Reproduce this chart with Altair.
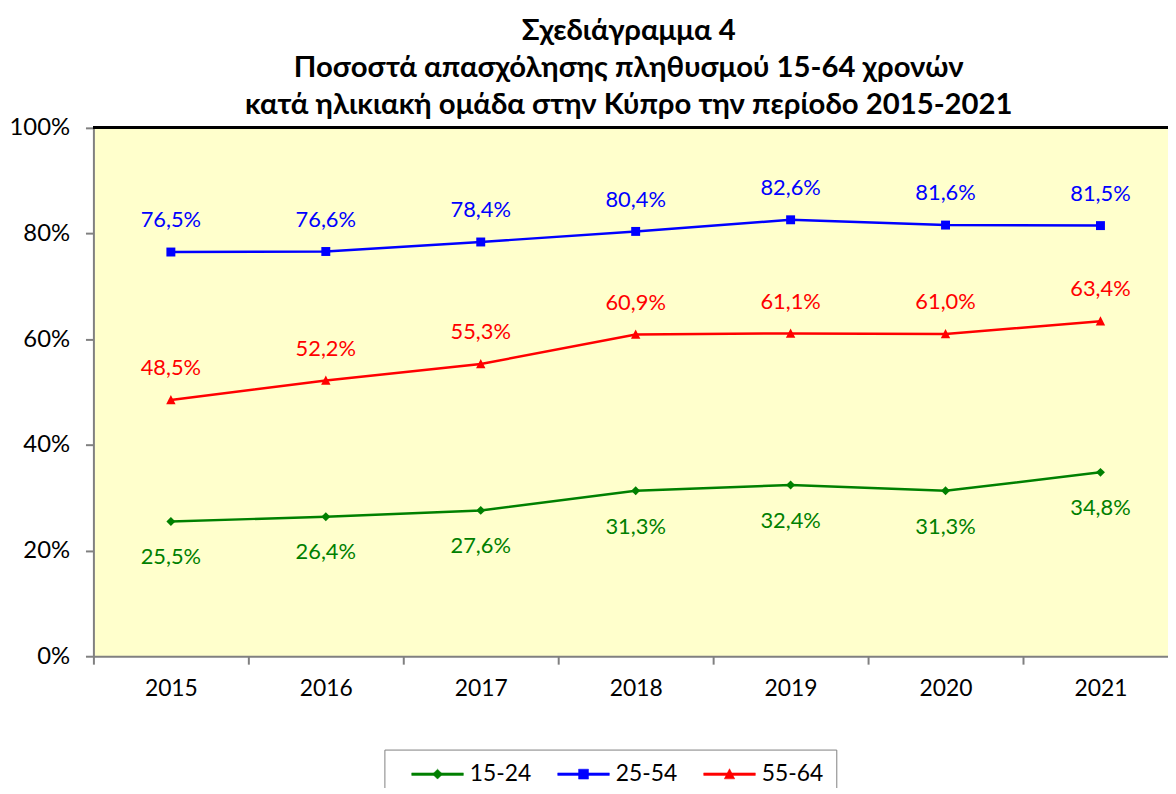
import altair as alt
import pandas as pd

years = ["2015", "2016", "2017", "2018", "2019", "2020", "2021"]
series = ["15-24", "25-54", "55-64"]
v_15_24 = [25.5, 26.4, 27.6, 31.3, 32.4, 31.3, 34.8]
v_25_54 = [76.5, 76.6, 78.4, 80.4, 82.6, 81.6, 81.5]
v_55_64 = [48.5, 52.2, 55.3, 60.9, 61.1, 61.0, 63.4]
colors = ["#008000", "#0000FF", "#FF0000"]
title_lines = [
    "Σχεδιάγραμμα 4",
    "Ποσοστά απασχόλησης πληθυσμού 15-64 χρονών",
    "κατά ηλικιακή ομάδα στην Κύπρο την περίοδο 2015-2021",
]
y_ticks = [0, 0.2, 0.4, 0.6, 0.8, 1.0]

rows = []
for s, vals in zip(series, [v_15_24, v_25_54, v_55_64]):
    for yr, v in zip(years, vals):
        rows.append({"year": yr, "series": s, "value": v / 100,
                     "label": f"{v:.1f}%".replace(".", ",")})
df = pd.DataFrame(rows)

# marker paths in the unit box [-1, 1]
diamond = "M0,-1L1,0L0,1L-1,0Z"
square = "M-1,-1L1,-1L1,1L-1,1Z"
triangle = "M0,-1.1L1.05,0.95L-1.05,0.95Z"
shapes = [diamond, square, triangle]
# legend line segment drawn as a thin filled bar behind the marker
legend_bar = "M-5.2,-0.25L5.2,-0.25L5.2,0.25L-5.2,0.25Z"

FONT = "Lato, 'Noto Sans', sans-serif"

x_enc = alt.X(
    "year:O", bandPosition=0.5,
    scale=alt.Scale(type="band", paddingInner=0, paddingOuter=0, range=[0, 1092]),
    axis=alt.Axis(title=None, labelAngle=0, tickBand="extent", domainColor="#808080",
                  domainWidth=2, tickColor="#808080", tickWidth=2, tickSize=8,
                  labelFont=FONT, labelFontSize=23, labelColor="black", labelPadding=14),
)
y_scale = alt.Scale(domain=[0, 1], nice=False)
y_axis = alt.Axis(title=None, values=y_ticks, format=".0%", grid=False, domainColor="#808080",
                  domainWidth=2, tickColor="#808080", tickWidth=2, tickSize=8,
                  labelFont=FONT, labelFontSize=24, labelColor="black", labelPadding=16)
y_enc = alt.Y("value:Q", scale=y_scale, axis=y_axis)

legend = alt.Legend(
    title=None, orient="none", legendX=293, legendY=626, direction="horizontal",
    strokeColor="#808080", fillColor="white", padding=13, symbolSize=100,
    symbolStrokeWidth=0.5, symbolOffset=29, labelOffset=21, columnPadding=12,
    labelFont=FONT, labelFontSize=23, labelColor="black",
    symbolType={"expr": f"'{legend_bar}' + scale('shape', datum.value)"},
    symbolFillColor={"expr": "scale('color', datum.value)"},
    symbolStrokeColor={"expr": "scale('color', datum.value)"},
)
color_scale = alt.Scale(domain=series, range=colors)
color_enc = alt.Color("series:N", scale=color_scale, legend=legend)

base = alt.Chart(df)

lines = base.mark_line(strokeWidth=2.5).encode(x=x_enc, y=y_enc, color=color_enc)

points = base.transform_calculate(marker="datum.series").mark_point(
    filled=True, size=81, opacity=1).encode(
    x=x_enc, y=y_enc, color=color_enc,
    shape=alt.Shape("marker:N", scale=alt.Scale(range=shapes), legend=None),
)

labels_above = base.transform_filter(alt.datum.series != "15-24").mark_text(
    font=FONT, fontSize=22, dy=-32).encode(x=x_enc, y=y_enc, color=color_enc, text="label:N")
labels_below = base.transform_filter(alt.datum.series == "15-24").mark_text(
    font=FONT, fontSize=22, dy=36).encode(x=x_enc, y=y_enc, color=color_enc, text="label:N")

top_border = alt.Chart(df).mark_rule(color="black", strokeWidth=2.5).encode(
    y=alt.Y(datum=1.0, type="quantitative", scale=y_scale, axis=y_axis))

chart = alt.layer(lines, points, labels_above, labels_below, top_border).properties(
    width=1082, height=532,
    autosize=alt.AutoSizeParams(type="none"),
    padding={"left": 86, "top": 118, "right": 0, "bottom": 130},
    title=alt.TitleParams(text=title_lines, font=FONT, fontSize=29.5, fontWeight="bold",
                          lineHeight=37.5, anchor="middle", frame="group", offset=-5,
                          dx=-2, color="black"),
).configure_view(stroke=None, fill="#FFFFCC")

chart.save("out.html", embed_options={"renderer": "svg", "actions": False})
